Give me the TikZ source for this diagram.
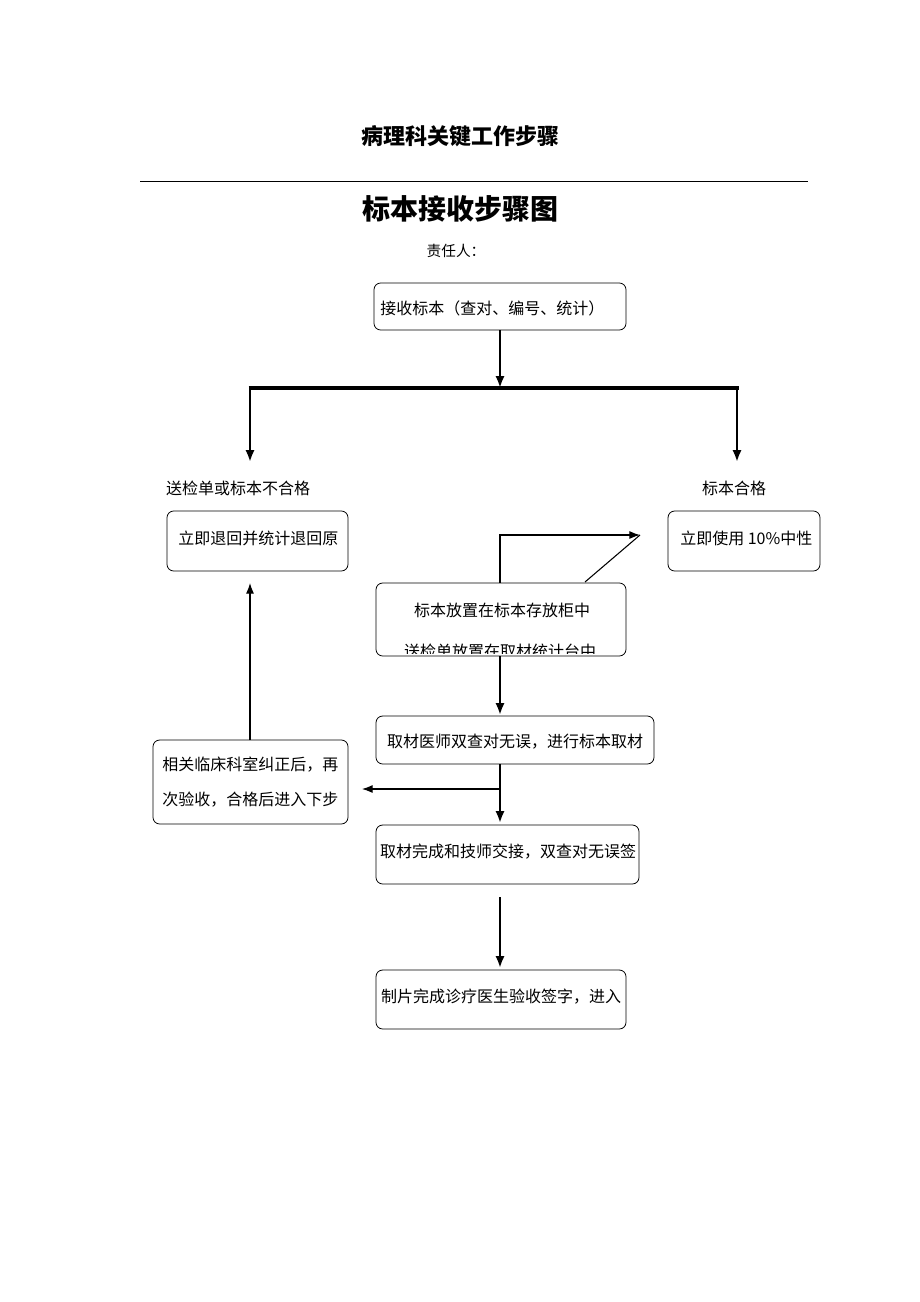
\documentclass[tikz,border=0pt]{standalone}
\usepackage{fontspec}
\setmainfont{Liberation Serif}
\newfontfamily\cjk{Noto Sans CJK SC}
\begin{document}
\begin{tikzpicture}[x=0.75pt,y=-0.75pt,
 box/.style={draw,rounded corners=5pt,line width=0.6pt},
 txt/.style={font=\cjk\fontsize{12}{14}\selectfont,inner sep=0},
 thick arr/.style={line width=2.2pt,-{Latex[length=9pt,width=7pt]}},
 thin arr/.style={line width=0.8pt,-{Latex[length=8pt,width=6pt]}}]
\usetikzlibrary{arrows.meta}
\useasboundingbox (0,0) rectangle (920,1302);
\node[txt,font=\cjk\bfseries\fontsize{16.5}{18}\selectfont] (t1) at (460,136) {病理科关键工作步骤};
\draw[line width=0.6pt] (140,181) coordinate (l1) -- (808,181) coordinate (l2);
\node[txt,font=\cjk\bfseries\fontsize{21}{24}\selectfont] (t2) at (460,209) {标本接收步骤图};
\node[txt,font=\cjk\fontsize{11}{13}\selectfont] (t3) at (456,251) {责任人：};
% boxes
\draw[box] (374,283) rectangle (626,330);
\node[txt,anchor=west] (b1) at (380,308) {接收标本（查对、编号、统计）};
\coordinate (b1s) at (500,330);
\coordinate (hj) at (500,388);
\draw[thick arr] (b1s) -- (hj);
\draw[line width=3pt] (248.5,388) coordinate (hl) -- (738.5,388) coordinate (hr);
\coordinate (al) at (250,462); \coordinate (ar) at (737,462);
\draw[thick arr] (250,388) -- (al);
\draw[thick arr] (737,388) -- (ar);
\node[txt] (lab1) at (238,488) {送检单或标本不合格};
\node[txt] (lab2) at (734,488) {标本合格};
\draw[box] (167,511) rectangle (348,571);
\node[txt,anchor=west] (bl) at (178,538) {立即退回并统计退回原};
\draw[box] (668,511) rectangle (820,571);
\node[txt,anchor=west] (br) at (680,538) {立即使用 10\%中性};
% mid
\coordinate (m1) at (500,535); \coordinate (m2) at (640,535); \coordinate (m3) at (585,582);
\draw[line width=2.2pt] (500,583) -- (500,534);
\draw[thin arr] (m1) -- (m2);
\draw[line width=0.8pt] (m2) -- (m3);
\draw[box,fill=white] (376,583) rectangle (626,656);
\begin{scope}
\clip (376,583) rectangle (626,653);
\node[txt] (bm1) at (502,610) {标本放置在标本存放柜中};
\node[txt] (bm2) at (500,651) {送检单放置在取材统计台中};
\end{scope}
\draw[thick arr] (500,656) -- (500,715);
\draw[box] (376,716) rectangle (654,764);
\node[txt] (bq) at (515,742) {取材医师双查对无误，进行标本取材};
\draw[thick arr] (500,764) -- (500,823);
\draw[thin arr] (500,789) -- (362,789);
\draw[box] (153,740) rectangle (348,824);
\node[txt,anchor=west,align=left] (bc) at (162,782) {相关临床科室纠正后，再\\[12pt]次验收，合格后进入下步};
\draw[thin arr] (250,740) -- (250,583);
\draw[box] (376,825) rectangle (639,884);
\node[txt] (bj) at (508,852) {取材完成和技师交接，双查对无误签};
\draw[thick arr] (500,897) -- (500,968);
\draw[box] (376,970) rectangle (626,1029);
\node[txt] (bz) at (501,997) {制片完成诊疗医生验收签字，进入};
\end{tikzpicture}
\end{document}
